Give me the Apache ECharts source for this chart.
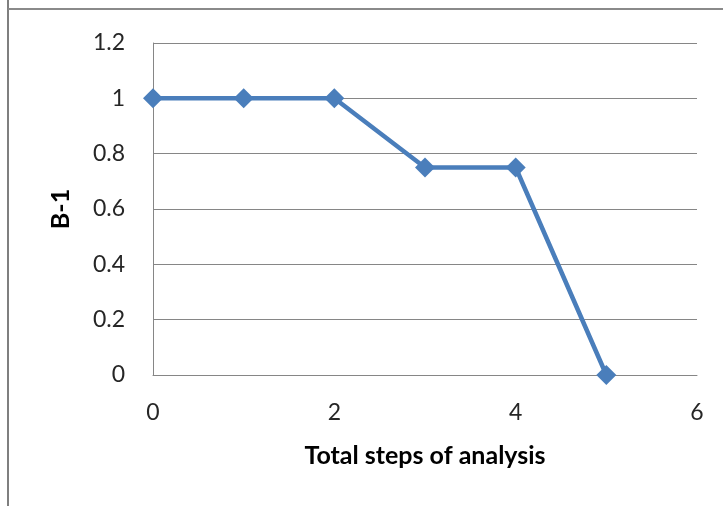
<!DOCTYPE html>
<html>
<head>
<meta charset="utf-8">
<script src="https://cdn.jsdelivr.net/npm/echarts@6/dist/echarts.min.js"></script>
<style>html,body{margin:0;padding:0;background:#fff;}#c{width:723px;height:506px;}</style>
</head>
<body>
<div id="c"></div>
<script>
var xValues = [0, 1, 2, 3, 4, 5];
var yValues = [1, 1, 1, 0.75, 0.75, 0];
var xAxisName = 'Total steps of analysis';
var yAxisName = 'B-1';

var chart = echarts.init(document.getElementById('c'), null, {renderer: 'canvas'});
var data = xValues.map(function (x, i) { return [x, yValues[i]]; });
var font = 'Lato, "Liberation Sans", sans-serif';
chart.setOption({
  animation: false,
  backgroundColor: '#fff',
  grid: {left: 153, right: 26, top: 43, bottom: 131, containLabel: false},
  graphic: [
    {type: 'line', shape: {x1: 8, y1: 0, x2: 8, y2: 506}, style: {stroke: '#7f7f7f', lineWidth: 2}},
    {type: 'line', shape: {x1: 8, y1: 9, x2: 723, y2: 9}, style: {stroke: '#8a8a8a', lineWidth: 2}}
  ],
  xAxis: {
    type: 'value', min: 0, max: 6, interval: 2,
    name: xAxisName, nameLocation: 'middle', nameGap: 68,
    nameTextStyle: {fontFamily: font, fontWeight: 'bold', fontSize: 25, color: '#000'},
    axisLine: {show: true, lineStyle: {color: '#868686', width: 1}},
    axisTick: {show: false},
    splitLine: {show: false},
    axisLabel: {fontFamily: font, fontSize: 23, color: '#262626', margin: 26}
  },
  yAxis: {
    type: 'value', min: 0, max: 1.2, interval: 0.2,
    name: yAxisName, nameLocation: 'middle', nameGap: 80, nameRotate: 90,
    nameTextStyle: {fontFamily: font, fontWeight: 'bold', fontSize: 25, color: '#000'},
    axisLine: {show: true, lineStyle: {color: '#868686', width: 1}},
    axisTick: {show: false},
    splitLine: {show: true, lineStyle: {color: '#868686', width: 1}},
    axisLabel: {fontFamily: font, fontSize: 23, color: '#262626', margin: 28,
      formatter: function (v) { return String(Math.round(v * 10) / 10); }}
  },
  series: [{
    type: 'line',
    data: data,
    symbol: 'diamond',
    symbolSize: 20,
    lineStyle: {color: '#4a7ebb', width: 4.5},
    itemStyle: {color: '#4a7ebb'}
  }]
});
</script>
</body>
</html>
